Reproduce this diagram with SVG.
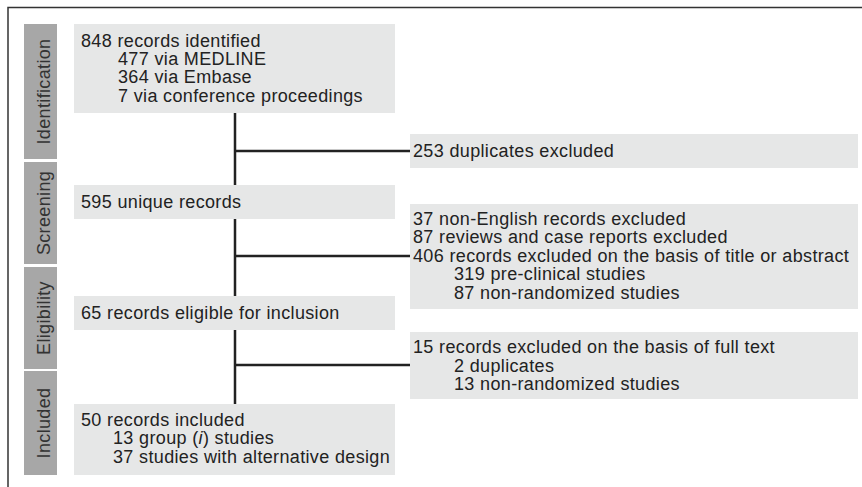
<svg xmlns="http://www.w3.org/2000/svg" width="862" height="487" viewBox="0 0 862 487">
<style>
text{font-family:"Liberation Sans",Arial,sans-serif;font-size:18px;letter-spacing:0.35px;fill:#222}
.side{fill:#a7a7a7}
.box{fill:#e6e7e7}
.lbl{fill:#333;text-anchor:middle}
.conn{stroke:#222;stroke-width:2.5;fill:none}
.frame{stroke:#333;stroke-width:1.5;fill:none}
</style>
<rect width="862" height="487" fill="#fff"/>
<path class="frame" d="M8 487V7.5H862"/>
<g id="connectors">
<path class="conn" d="M235 113V404"/>
<path class="conn" d="M235 151H410"/>
<path class="conn" d="M235 256H410"/>
<path class="conn" d="M235 365H410"/>
</g>
<g id="stage-identification"><rect class="side" x="24" y="24" width="33" height="135"/><text class="lbl" transform="translate(49.5 91.5) rotate(-90)">Identification</text></g>
<g id="stage-screening"><rect class="side" x="24" y="162" width="33" height="102"/><text class="lbl" transform="translate(49.5 213) rotate(-90)">Screening</text></g>
<g id="stage-eligibility"><rect class="side" x="24" y="267" width="33" height="102"/><text class="lbl" transform="translate(49.5 318) rotate(-90)">Eligibility</text></g>
<g id="stage-included"><rect class="side" x="24" y="371" width="33" height="104"/><text class="lbl" transform="translate(49.5 423) rotate(-90)">Included</text></g>
<g id="identified"><rect class="box" x="74" y="24" width="321" height="89"/>
<text x="81" y="46.5">848 records identified</text>
<text x="118" y="65">477 via MEDLINE</text>
<text x="118" y="83.3">364 via Embase</text>
<text x="118" y="101.6">7 via conference proceedings</text></g>
<g id="duplicates"><rect class="box" x="410" y="134" width="448" height="34"/>
<text x="413" y="157">253 duplicates excluded</text></g>
<g id="unique"><rect class="box" x="74" y="185" width="321" height="34"/>
<text x="81" y="208.3">595 unique records</text></g>
<g id="screen-excluded"><rect class="box" x="410" y="204" width="448" height="105"/>
<text x="413" y="224.5">37 non-English records excluded</text>
<text x="413" y="243">87 reviews and case reports excluded</text>
<text x="413" y="261.5">406 records excluded on the basis of title or abstract</text>
<text x="454" y="280">319 pre-clinical studies</text>
<text x="454" y="298.5">87 non-randomized studies</text></g>
<g id="eligible"><rect class="box" x="74" y="296" width="321" height="34"/>
<text x="81" y="319">65 records eligible for inclusion</text></g>
<g id="fulltext-excluded"><rect class="box" x="410" y="332" width="448" height="67"/>
<text x="413" y="353.3">15 records excluded on the basis of full text</text>
<text x="454" y="371.7">2 duplicates</text>
<text x="454" y="390">13 non-randomized studies</text></g>
<g id="included"><rect class="box" x="74" y="404" width="321" height="71"/>
<text x="81" y="425.7">50 records included</text>
<text x="113" y="444.3">13 group (<tspan font-style="italic">i</tspan>) studies</text>
<text x="113" y="462.5">37 studies with alternative design</text></g>
</svg>
